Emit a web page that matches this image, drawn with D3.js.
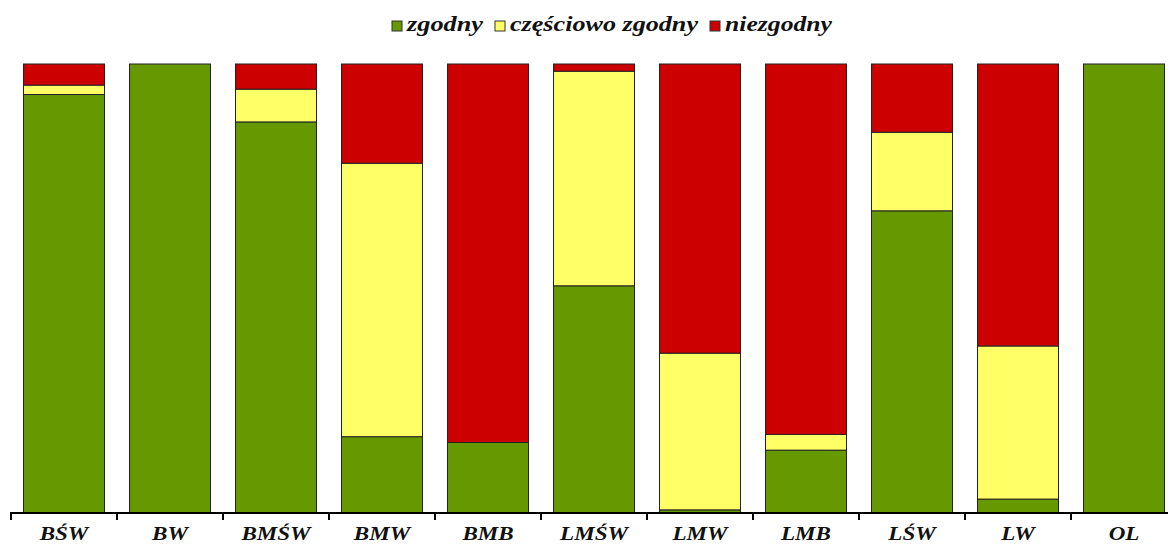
<!DOCTYPE html>
<html>
<head>
<meta charset="utf-8">
<script src="https://cdn.jsdelivr.net/npm/d3@7"></script>
<style>
  html, body { margin: 0; padding: 0; background: #fff; }
  svg { display: block; }
  text { font-family: "Liberation Serif", "DejaVu Serif", serif; font-weight: bold; font-style: italic; fill: #111; }
</style>
</head>
<body>
<svg id="chart" width="1168" height="544"></svg>
<script>
const categories = ["BŚW", "BW", "BMŚW", "BMW", "BMB", "LMŚW", "LMW", "LMB", "LŚW", "LW", "OL"];
const zgodny = [93.2, 100, 87.1, 17.0, 15.7, 50.6, 0.7, 14.0, 67.3, 3.1, 100];
const czesciowo = [2.1, 0, 7.3, 60.9, 0, 47.8, 34.9, 3.5, 17.5, 34.1, 0];
const niezgodny = [4.7, 0, 5.6, 22.1, 84.3, 1.6, 64.4, 82.5, 15.2, 62.8, 0];
const seriesNames = ["zgodny", "częściowo zgodny", "niezgodny"];
const seriesColors = ["#669900", "#FFFF66", "#CC0000"];

const svg = d3.select("#chart");
const W = 1168;

const x = d3.scaleBand()
  .domain(categories)
  .range([11, 1177])
  .paddingInner(0.236)
  .paddingOuter(0.118);

const y = d3.scaleLinear().domain([0, 100]).range([513, 64]);

const rows = categories.map((c, i) => ({
  cat: c,
  zgodny: zgodny[i],
  czesciowo: czesciowo[i],
  niezgodny: niezgodny[i]
}));
const keys = ["zgodny", "czesciowo", "niezgodny"];
const stack = d3.stack().keys(keys)(rows);

const g = svg.append("g");
stack.forEach((layer, li) => {
  g.selectAll(null)
    .data(layer.filter(d => d[1] - d[0] > 0))
    .enter()
    .append("rect")
    .attr("x", d => x(d.data.cat))
    .attr("width", x.bandwidth())
    .attr("y", d => y(d[1]))
    .attr("height", d => y(d[0]) - y(d[1]))
    .attr("fill", seriesColors[li])
    .attr("stroke", "#222")
    .attr("stroke-width", 1);
});

// axis
const step = x.step();
const axisY = 513;
const axisG = svg.append("g");
axisG.append("line")
  .attr("x1", 10).attr("x2", W)
  .attr("y1", axisY).attr("y2", axisY)
  .attr("stroke", "#000").attr("stroke-width", 2);
const tickPos = categories.map(c => x(c) - step * x.paddingInner() / 2);
axisG.selectAll(null).data(tickPos).enter().append("line")
  .attr("x1", d => d).attr("x2", d => d)
  .attr("y1", axisY).attr("y2", axisY + 7)
  .attr("stroke", "#000").attr("stroke-width", 2);

const xAxis = d3.axisBottom(x).tickSize(0).tickPadding(0);
const ax = svg.append("g").attr("transform", `translate(0,${axisY})`).call(xAxis);
ax.select(".domain").remove();
ax.selectAll("text")
  .attr("y", 27)
  .attr("dy", 0)
  .style("font-family", '"Liberation Serif", "DejaVu Serif", serif')
  .style("font-weight", "bold")
  .style("font-style", "italic")
  .style("font-size", "18px")
  .attr("fill", "#111")
  .each(function () {
    const len = this.getComputedTextLength();
    d3.select(this).attr("textLength", len * 1.28).attr("lengthAdjust", "spacingAndGlyphs");
  });

// legend
const legendBoxX = [392, 495, 710];
const legendTextW = [76, 188, 107];
const legend = svg.append("g");
seriesNames.forEach((name, i) => {
  legend.append("rect")
    .attr("x", legendBoxX[i]).attr("y", 21).attr("width", 10).attr("height", 10)
    .attr("fill", seriesColors[i]).attr("stroke", "#333").attr("stroke-width", 1);
  legend.append("text")
    .attr("x", legendBoxX[i] + 15).attr("y", 31)
    .style("font-size", "21px")
    .attr("textLength", legendTextW[i])
    .attr("lengthAdjust", "spacingAndGlyphs")
    .text(name);
});
</script>
</body>
</html>
